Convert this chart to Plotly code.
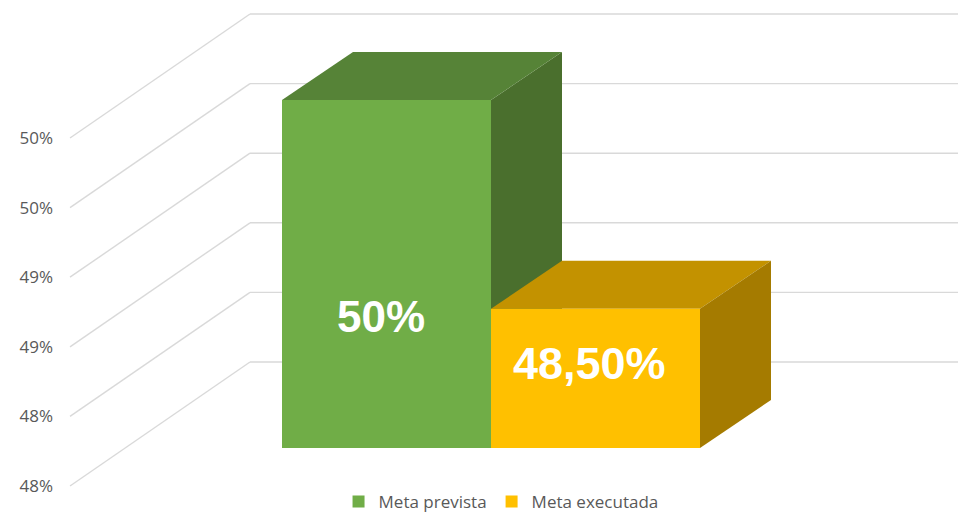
import plotly.graph_objects as go

# ---- data ----
categories = ["Meta prevista", "Meta executada"]
values = [50.0, 48.5]                      # percent
value_labels = ["50%", "48,50%"]
bar_colors = ["#70AD47", "#FFC000"]
top_colors = ["#568337", "#C39200"]
side_colors = ["#4A6F2D", "#A57B00"]
tick_values = [47.5, 48.0, 48.5, 49.0, 49.5, 50.0]
tick_labels = ["48%", "48%", "49%", "49%", "50%", "50%"]
axis_base = 47.5

# ---- layout calibration (pixel geometry of the oblique 3D view) ----
W, H = 958, 513
ML = 62
PX_PER_PCT = 139.2
PX_PER_CAT = 209.0
FRONT_BASE_PX = 448.0      # screen y of the axis base on the bar front plane
CAT0_CENTER_PX = 386.5     # screen x of first category centre

y_range = [axis_base - (H - FRONT_BASE_PX) / PX_PER_PCT,
           axis_base + FRONT_BASE_PX / PX_PER_PCT]
x_range = [(ML - CAT0_CENTER_PX) / PX_PER_CAT, (W - CAT0_CENTER_PX) / PX_PER_CAT]

DX = 71 / PX_PER_CAT           # bar depth (x)
DY = 48 / PX_PER_PCT           # bar depth (y)
WALL_X = (250 - CAT0_CENTER_PX) / PX_PER_CAT
WALL_DY = 86 / PX_PER_PCT
FLOOR_X = (70 - CAT0_CENTER_PX) / PX_PER_CAT
FLOOR_DY = WALL_DY - 124 / PX_PER_PCT

fig = go.Figure()

for i, (cat, v) in enumerate(zip(categories, values)):
    fig.add_trace(go.Bar(
        x=[i], y=[v - axis_base], base=axis_base, width=1.0,
        name=cat, marker=dict(color=bar_colors[i], line=dict(width=0)),
        hovertemplate=f"{cat}: {value_labels[i]}<extra></extra>",
    ))

shapes = []
grid_color = "#D9D9D9"
for t in tick_values:
    yb = t + WALL_DY
    shapes.append(dict(type="line", xref="x", yref="y", x0=WALL_X, y0=yb,
                       x1=x_range[1], y1=yb, layer="below",
                       line=dict(color=grid_color, width=1.4)))
    shapes.append(dict(type="line", xref="x", yref="y", x0=FLOOR_X, y0=t + FLOOR_DY,
                       x1=WALL_X, y1=yb, layer="below",
                       line=dict(color=grid_color, width=1.4)))

def face(points, color):
    path = "M " + " L ".join(f"{px},{py}" for px, py in points) + " Z"
    return dict(type="path", xref="x", yref="y", path=path, layer="below",
                fillcolor=color, line=dict(width=0))

for i, v in enumerate(values):
    l, r = i - 0.5, i + 0.5
    top = [(l, v), (l + DX, v + DY), (r + DX, v + DY), (r, v)]
    side = [(r, v), (r + DX, v + DY), (r + DX, axis_base + DY), (r, axis_base)]
    if i == 0:
        shapes.append(face(side, side_colors[i]))
        shapes.append(face(top, top_colors[i]))
    else:
        shapes.append(face(top, top_colors[i]))
        shapes.append(face(side, side_colors[i]))

label_pos = [(-0.024, 0.378), (-0.029, 0.61)]   # (x shift, fraction of bar height)
label_size = [44, 45]
annotations = []
for i, v in enumerate(values):
    dx, frac = label_pos[i]
    annotations.append(dict(
        x=i + dx, y=axis_base + frac * (v - axis_base), xref="x", yref="y",
        text=f"<b>{value_labels[i]}</b>", showarrow=False,
        font=dict(family="Liberation Sans, Arial, sans-serif", size=label_size[i],
                  color="white"),
        xanchor="center", yanchor="middle",
    ))

fig.update_layout(
    width=W, height=H,
    margin=dict(l=ML, r=0, t=0, b=0, autoexpand=False),
    paper_bgcolor="white", plot_bgcolor="white",
    barmode="overlay",
    shapes=shapes, annotations=annotations,
    xaxis=dict(range=x_range, visible=False, fixedrange=True, automargin=False),
    yaxis=dict(range=y_range, visible=False, fixedrange=True, automargin=False),
    yaxis2=dict(
        overlaying="y", anchor="free", position=0, side="left",
        range=[y_range[0] - FLOOR_DY, y_range[1] - FLOOR_DY],
        tickmode="array", tickvals=tick_values, ticktext=tick_labels,
        showgrid=False, zeroline=False, showline=False, ticks="",
        ticklabelstandoff=9, automargin=False,
        tickfont=dict(family="Open Sans, sans-serif", size=17, color="#595959"),
        fixedrange=True,
    ),
    legend=dict(orientation="h", x=0.49, xanchor="center", y=(H - 502) / H,
                yanchor="middle", font=dict(family="Open Sans, sans-serif", size=17,
                                            color="#595959"),
                bgcolor="rgba(0,0,0,0)"),
    showlegend=True,
)

# invisible trace to activate yaxis2
fig.add_trace(go.Scatter(x=[x_range[0]], y=[tick_values[0]], yaxis="y2",
                         mode="markers", marker=dict(opacity=0), showlegend=False,
                         hoverinfo="skip"))

fig.write_html(
    "out.html",
    config={"displayModeBar": False},
    post_script="document.body.style.margin='0';document.body.style.overflow='hidden';",
)
